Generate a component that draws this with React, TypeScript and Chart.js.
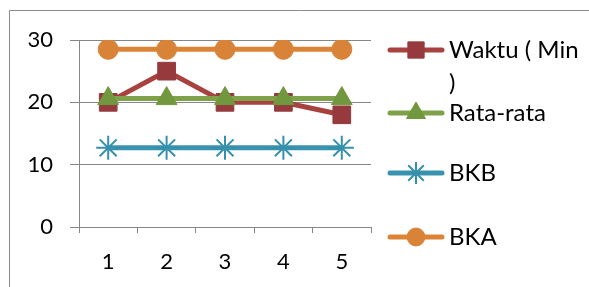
import React, { useEffect, useRef } from "react";
import { Chart, registerables } from "chart.js";
import { drawPoint } from "chart.js/helpers";

Chart.register(...registerables);

const categories = ["1", "2", "3", "4", "5"];
const waktu = [20, 25, 20, 20, 18];
const rataRata = [20.6, 20.6, 20.6, 20.6, 20.6];
const bkb = [12.7, 12.7, 12.7, 12.7, 12.7];
const bka = [28.5, 28.5, 28.5, 28.5, 28.5];
const yTicks = [0, 10, 20, 30];
const legendLabels = [["Waktu ( Min", ")"], ["Rata-rata"], ["BKB"], ["BKA"]];

const FONT = "Lato, 'Noto Sans', sans-serif";
const GRID = "#878787";

const legendPlugin = {
  id: "sideLegend",
  afterDraw(chart: any) {
    const ctx = chart.ctx;
    ctx.save();
    // outer frame
    ctx.strokeStyle = "#8a8a8a";
    ctx.lineWidth = 1;
    ctx.beginPath();
    ctx.moveTo(9.5, 287);
    ctx.lineTo(9.5, 10.5);
    ctx.lineTo(589, 10.5);
    ctx.stroke();

    const rows = [50, 113, 173, 237];
    chart.data.datasets.forEach((ds: any, i: number) => {
      const y = rows[i];
      ctx.strokeStyle = ds.borderColor;
      ctx.lineWidth = 5;
      ctx.lineCap = "round";
      ctx.beginPath();
      ctx.moveTo(390, y);
      ctx.lineTo(442, y);
      ctx.stroke();
      ctx.fillStyle = ds.pointBackgroundColor;
      ctx.strokeStyle = ds.pointBorderColor;
      ctx.lineWidth = ds.pointBorderWidth;
      ctx.lineCap = "butt";
      drawPoint(ctx, { pointStyle: ds.pointStyle, radius: ds.pointRadius - 1, rotation: 0, borderWidth: ds.pointBorderWidth }, 416, y);
      ctx.fillStyle = "#000";
      ctx.font = `24px ${FONT}`;
      ctx.textBaseline = "alphabetic";
      ctx.textAlign = "left";
      legendLabels[i].forEach((t, k) => {
        ctx.fillText(t, 449, y + 8 + k * 33);
      });
    });
    ctx.restore();
  },
};

export default function App() {
  const ref = useRef<HTMLCanvasElement>(null);
  useEffect(() => {
    document.body.style.margin = "0";
    const mk = (label: string, data: number[], line: string, mark: string, style: string, r: number, order: number, bw = 1) => ({
      label,
      data,
      borderColor: line,
      backgroundColor: mark,
      borderWidth: 5,
      pointStyle: style,
      pointRadius: r,
      pointHoverRadius: r,
      pointBackgroundColor: mark,
      pointBorderColor: mark,
      pointBorderWidth: bw,
      tension: 0,
      order,
    });
    const chart = new Chart(ref.current!, {
      type: "line",
      data: {
        labels: categories,
        datasets: [
          mk("Waktu ( Min )", waktu, "#A8423F", "#963A3D", "rect", 12.5, 4),
          mk("Rata-rata", rataRata, "#7EA14A", "#72983F", "triangle", 12, 3),
          mk("BKB", bkb, "#3A93AE", "#3590AC", "star", 12, 2, 2),
          mk("BKA", bka, "#DC8436", "#D98338", "circle", 10, 1),
        ] as any,
      },
      options: {
        animation: false,
        responsive: false,
        events: [],
        layout: { padding: { top: 40, right: 218, bottom: 0, left: 0 } },
        plugins: { legend: { display: false }, tooltip: { enabled: false } },
        scales: {
          x: {
            offset: true,
            grid: { offset: true, drawOnChartArea: false, drawTicks: true, tickLength: 6, color: GRID },
            border: { display: true, color: GRID },
            ticks: { font: { family: FONT, size: 22 }, color: "#000", padding: 16 },
            afterFit: (s: any) => { s.height = 60; },
          },
          y: {
            min: 0,
            max: 30,
            afterBuildTicks: (s: any) => { s.ticks = yTicks.map((v) => ({ value: v })); },
            grid: { color: GRID, tickLength: 9 },
            border: { display: true, color: GRID },
            ticks: { font: { family: FONT, size: 22 }, color: "#000", padding: 17 },
            afterFit: (s: any) => { s.width = 79; },
          },
        },
      },
      plugins: [legendPlugin],
    });
    return () => chart.destroy();
  }, []);
  return (
    <div style={{ position: "fixed", left: 0, top: 0, width: 589, height: 287, background: "#fff" }}>
      <canvas ref={ref} width={589} height={287} />
    </div>
  );
}
